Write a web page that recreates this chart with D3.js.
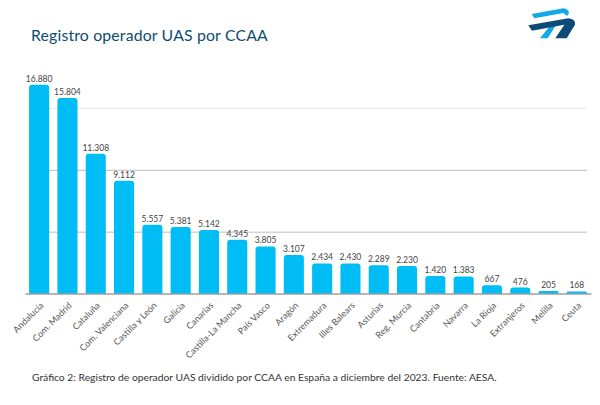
<!DOCTYPE html>
<html>
<head>
<meta charset="utf-8">
<script src="https://cdn.jsdelivr.net/npm/d3@7"></script>
<style>
  html, body { margin: 0; padding: 0; background: #fff; }
  svg { display: block; }
  text { font-family: Lato, "Open Sans", sans-serif; }
  .grid .domain { display: none; }
  .xaxis .domain { stroke: #6e6e6e; stroke-width: 1; }
  .xaxis line { display: none; }
</style>
</head>
<body>
<div id="chart"></div>
<script>
const categories = [
  "Andalucía", "Com. Madrid", "Cataluña", "Com. Valenciana", "Castilla y León",
  "Galicia", "Canarias", "Castilla-La Mancha", "País Vasco", "Aragón",
  "Extremadura", "Illes Balears", "Asturias", "Reg. Murcia", "Cantabria",
  "Navarra", "La Rioja", "Extranjeros", "Melilla", "Ceuta"
];
const registros = [
  16880, 15804, 11308, 9112, 5557, 5381, 5142, 4345, 3805, 3107,
  2434, 2430, 2289, 2230, 1420, 1383, 667, 476, 205, 168
];
const gridTicks = [5000, 10000, 15000];
const gridColors = ["#bdbdbd", "#bdbdbd", "#e6e6e6"];

const width = 600;
const height = 405;
const barColor = "#00bdf6";
const thousands = d3.format(",");

const svg = d3.select("#chart").append("svg")
  .attr("width", width)
  .attr("height", height);

const x = d3.scaleBand()
  .domain(categories)
  .range([25, 591])
  .paddingInner(0.29)
  .paddingOuter(0.145);

const y = d3.scaleLinear()
  .domain([0, 15000])
  .range([293.5, 108]);

// horizontal gridlines
const grid = svg.append("g")
  .attr("class", "grid")
  .attr("transform", "translate(29,0)")
  .call(d3.axisLeft(y).tickValues(gridTicks).tickSize(-558).tickFormat(""));

grid.selectAll(".tick line")
  .attr("stroke", (d, i) => gridColors[i]);

const barPath = d => {
  const r = Math.min(3, (y(0) - y(d.value)) / 1.5);
  const left = x(d.name);
  const right = left + x.bandwidth();
  const top = y(d.value);
  const p = d3.path();
  p.moveTo(left, y(0));
  p.lineTo(left, top + r);
  p.quadraticCurveTo(left, top, left + r, top);
  p.lineTo(right - r, top);
  p.quadraticCurveTo(right, top, right, top + r);
  p.lineTo(right, y(0));
  p.closePath();
  return p.toString();
};

const rows = categories.map((name, i) => ({ name, value: registros[i] }));

svg.append("g").selectAll("path")
  .data(rows)
  .join("path")
  .attr("d", barPath)
  .attr("fill", barColor);

// value labels
svg.append("g").selectAll("text")
  .data(rows)
  .join("text")
  .attr("x", d => x(d.name) + x.bandwidth() / 2)
  .attr("y", d => y(d.value) - 3)
  .attr("text-anchor", "middle")
  .attr("font-size", 8.5)
  .attr("fill", "#444")
  .text(d => thousands(d.value).replace(/,/g, "."));

// category axis
const xAxis = svg.append("g")
  .attr("class", "xaxis")
  .attr("transform", `translate(0,${y(0)})`)
  .call(d3.axisBottom(x).tickSize(0).tickSizeOuter(0));

xAxis.selectAll("text")
  .attr("font-size", 9)
  .attr("fill", "#555")
  .attr("text-anchor", "end")
  .attr("dx", "0.35em")
  .attr("dy", "0.1em")
  .attr("transform", "translate(0,12) rotate(-45)");

svg.append("text")
  .attr("x", 31)
  .attr("y", 41)
  .attr("font-size", 15.8)
  .attr("letter-spacing", 0.17)
  .attr("fill", "#0f4c6e")
  .text("Registro operador UAS por CCAA");

svg.append("text")
  .attr("x", 32)
  .attr("y", 381)
  .attr("font-size", 10.3)
  .attr("fill", "#333")
  .text("Gráfico 2: Registro de operador UAS dividido por CCAA en España a diciembre del 2023. Fuente: AESA.");

// logo
const logo = svg.append("g").attr("transform", "translate(500,0) scale(0.3333)");
logo.append("path")
  .attr("fill", "#12a9e8")
  .attr("d", "M95,42 L190,25 Q206,26 207,40 L201,48 L190,39 L103,55 Z");
logo.append("path")
  .attr("fill", "#12a9e8")
  .attr("d", "M120,115 L152,75 L170,72 L143,115 Z");
logo.append("path")
  .attr("fill", "#0d4a75")
  .attr("d", "M85,76 L205,55 Q228,58 225,74 L200,115 L166,115 L193,74 L140,84 L96,92 Z");
</script>
</body>
</html>
